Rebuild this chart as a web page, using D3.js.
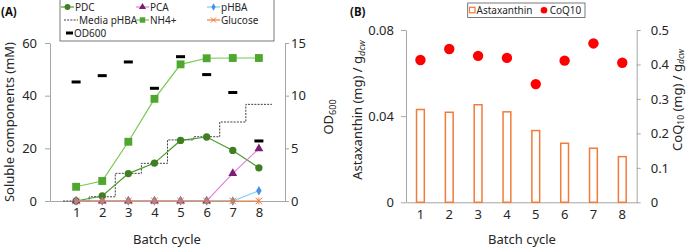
<!DOCTYPE html>
<html>
<head>
<meta charset="utf-8">
<script src="https://cdn.jsdelivr.net/npm/d3@7"></script>
<style>
  body { margin: 0; background: #fff; }
  svg { font-family: "Noto Sans", sans-serif; }
</style>
</head>
<body>
<svg id="chart" width="687" height="247"></svg>
<script>
// panel A data (mM, OD)
const cycles = [1, 2, 3, 4, 5, 6, 7, 8];
const pdc = [0, 1.9, 10.4, 14.4, 23.0, 24.3, 19.2, 12.6];
const pca = [0, 0, 0, 0, 0, 0, 10.5, 19.9];
const phba = [0, 0, 0, 0, 0, 0, 0, 3.9];
const glucose = [0, 0, 0, 0, 0, 0, 0, 0];
const nh4 = [5.4, 7.6, 22.5, 38.8, 51.9, 54.2, 54.3, 54.3];
const mediaPhba = [0, 1.6, 10.5, 14.3, 23.2, 24.4, 30.0, 36.7];
const od600 = [11.3, 11.9, 13.2, 10.7, 13.7, 12.0, 10.3, 5.7];
const leftTicksA = [0, 20, 40, 60];
const rightTicksA = [0, 5, 10, 15];

// panel B data
const astaxanthin = [0.0431, 0.0418, 0.0453, 0.0420, 0.0333, 0.0274, 0.0251, 0.0212];
const coq10 = [0.413, 0.445, 0.425, 0.419, 0.343, 0.411, 0.461, 0.405];
const leftTicksB = [0, 0.04, 0.08];
const rightTicksB = [0, 0.1, 0.2, 0.3, 0.4, 0.5];

const svg = d3.select("#chart");
const axisGrey = "#a6a6a6";
const textCol = "#262626";

function styleAxis(g) {
    g.select(".domain").attr("stroke", axisGrey);
    g.selectAll(".tick line").attr("stroke", axisGrey);
    g.selectAll(".tick text").attr("fill", textCol).style("font-size", "13px").style("font-family", "\"Noto Sans\", sans-serif");
}

// ---------- panel A ----------
const xA = d3.scaleLinear().domain([0, 9]).range([50, 285]);
const yA = d3.scaleLinear().domain([0, 60]).range([201, 43]);
const yA2 = d3.scaleLinear().domain([0, 15]).range([201, 43]);

svg.append("g").attr("transform", "translate(50,0)")
    .call(d3.axisLeft(yA).tickValues(leftTicksA).tickSize(5).tickSizeOuter(0).tickPadding(8))
    .call(styleAxis);
svg.append("g").attr("transform", "translate(285,0)")
    .call(d3.axisRight(yA2).tickValues(rightTicksA).tickSize(4).tickSizeOuter(0).tickPadding(2))
    .call(styleAxis);
svg.append("g").attr("transform", "translate(0,201)")
    .call(d3.axisBottom(xA).tickValues(cycles).tickSize(0).tickSizeOuter(0).tickPadding(7))
    .call(styleAxis);

// media pHBA step line, each level spans one cycle
const stepPts = [];
mediaPhba.forEach((v, i) => { stepPts.push([cycles[i] - 0.5, v], [cycles[i] + 0.5, v]); });
svg.append("path")
    .attr("d", d3.line().x(d => xA(d[0])).y(d => yA(d[1]))(stepPts))
    .attr("fill", "none").attr("stroke", "#404040").attr("stroke-width", 1)
    .attr("stroke-dasharray", "2,1.2");

const lineA = d3.line().x((d, i) => xA(cycles[i])).y(d => yA(d));

function series(vals, lineCol, markCol, symbol, size) {
    svg.append("path").attr("d", lineA(vals))
        .attr("fill", "none").attr("stroke", lineCol).attr("stroke-width", 1.2);
    svg.append("g").selectAll("path").data(vals).join("path")
        .attr("transform", (d, i) => `translate(${xA(cycles[i])},${yA(d)})`)
        .attr("d", d3.symbol().type(symbol).size(size))
        .attr("fill", markCol);
}

series(nh4, "#78c850", "#4ea72e", d3.symbolSquare, 62);
series(pdc, "#4b9a2c", "#3f7f22", d3.symbolCircle, 42);
series(pca, "#e381dc", "#7b1e74", d3.symbolTriangle, 34);
series(phba, "#6fd0f5", "#4a90e2", d3.symbolDiamond, 26);

// glucose asterisks
svg.append("path").attr("d", lineA(glucose))
    .attr("fill", "none").attr("stroke", "#f07b3a").attr("stroke-width", 1.2);
svg.append("g").selectAll("path").data(glucose).join("path")
    .attr("transform", (d, i) => `translate(${xA(cycles[i])},${yA(d)})`)
    .attr("d", d3.symbol().type(d3.symbolTimes).size(30))
    .attr("fill", "none").attr("stroke", "#f07b3a").attr("stroke-width", 1);
svg.append("g").selectAll("line").data(glucose).join("line")
    .attr("x1", (d, i) => xA(cycles[i])).attr("x2", (d, i) => xA(cycles[i]))
    .attr("y1", d => yA(d) - 3.5).attr("y2", d => yA(d) + 3.5)
    .attr("stroke", "#f07b3a").attr("stroke-width", 1);

// OD600 dashes
svg.append("g").selectAll("rect").data(od600).join("rect")
    .attr("x", (d, i) => xA(cycles[i]) - 4.5).attr("y", d => yA2(d) - 1.5)
    .attr("width", 9).attr("height", 3).attr("fill", "#000");

// axis titles A
svg.append("text").attr("transform", "translate(14,122) rotate(-90)")
    .attr("text-anchor", "middle").attr("fill", textCol).style("font-size", "13px")
    .text("Soluble components (mM)");
svg.append("text").attr("x", 167).attr("y", 244).attr("text-anchor", "middle")
    .attr("fill", textCol).style("font-size", "13px").text("Batch cycle");
const odLab = svg.append("text").attr("transform", "translate(333,117) rotate(-90)")
    .attr("text-anchor", "middle").attr("fill", textCol).style("font-size", "13px");
odLab.append("tspan").text("OD");
odLab.append("tspan").attr("dy", 2.5).style("font-size", "9px").text("600");
svg.append("text").attr("x", 1).attr("y", 16).attr("font-weight", "bold")
    .attr("fill", "#111").style("font-size", "11.5px").text("(A)");

// legend A
const legA = svg.append("g");
legA.append("rect").attr("x", 60).attr("y", -1).attr("width", 214).attr("height", 42)
    .attr("fill", "#fff").attr("stroke", "#595959").attr("stroke-width", 0.8);
const legItems = [
    {name: "PDC", col: 0, row: 0, line: "#4b9a2c", mark: "#3f7f22", sym: d3.symbolCircle, s: 26},
    {name: "PCA", col: 1, row: 0, line: "#e381dc", mark: "#7b1e74", sym: d3.symbolTriangle, s: 22},
    {name: "pHBA", col: 2, row: 0, line: "#6fd0f5", mark: "#4a90e2", sym: d3.symbolDiamond, s: 16},
    {name: "Media pHBA", col: 0, row: 1, dash: true},
    {name: "NH4+", col: 1, row: 1, line: "#78c850", mark: "#4ea72e", sym: d3.symbolSquare, s: 30},
    {name: "Glucose", col: 2, row: 1, line: "#f07b3a", mark: "#f07b3a", sym: d3.symbolTimes, s: 20, hollow: true},
    {name: "OD600", col: 0, row: 2, od: true}
];
const colX = [61, 136, 207];
const rowY = [7, 20, 33];
legItems.forEach(it => {
    const x0 = colX[it.col], y0 = rowY[it.row];
    const g = legA.append("g");
    if (it.od) {
        g.append("rect").attr("x", x0 + 5).attr("y", y0 - 1.5).attr("width", 7).attr("height", 3).attr("fill", "#000");
    } else if (it.dash) {
        g.append("line").attr("x1", x0 + 3).attr("x2", x0 + 17).attr("y1", y0).attr("y2", y0)
            .attr("stroke", "#404040").attr("stroke-dasharray", "2,1.2");
    } else {
        g.append("line").attr("x1", x0).attr("x2", x0 + 13).attr("y1", y0).attr("y2", y0)
            .attr("stroke", it.line).attr("stroke-width", 1.2);
        const m = g.append("path").attr("transform", `translate(${x0 + 6.5},${y0})`)
            .attr("d", d3.symbol().type(it.sym).size(it.s));
        if (it.hollow) m.attr("fill", "none").attr("stroke", it.mark);
        else m.attr("fill", it.mark);
    }
    g.append("text").attr("x", it.od ? x0 + 13 : (it.dash ? x0 + 18 : x0 + 14)).attr("y", y0 + 3.5)
        .attr("fill", textCol).style("font-size", "10px").text(it.name);
});

// ---------- panel B ----------
const xB = d3.scaleBand().domain(cycles).range([406, 636.7]);
const yB = d3.scaleLinear().domain([0, 0.08]).range([202.3, 30]);
const yB2 = d3.scaleLinear().domain([0, 0.5]).range([202.3, 30]);

svg.append("g").attr("transform", "translate(406,0)")
    .call(d3.axisLeft(yB).tickValues(leftTicksB).tickFormat(d => d === 0 ? "0" : d3.format(".2f")(d))
        .tickSize(5).tickSizeOuter(0).tickPadding(7))
    .call(styleAxis);
svg.append("g").attr("transform", "translate(636.7,0)")
    .call(d3.axisRight(yB2).tickValues(rightTicksB).tickFormat(d => d === 0 ? "0" : d3.format(".1f")(d))
        .tickSize(4).tickSizeOuter(0).tickPadding(10))
    .call(styleAxis);
svg.append("g").attr("transform", "translate(0,202.3)")
    .call(d3.axisBottom(xB).tickSize(0).tickSizeOuter(0).tickPadding(7))
    .call(styleAxis);

const barW = xB.bandwidth() * 0.27;
svg.append("g").selectAll("rect").data(astaxanthin).join("rect")
    .attr("x", (d, i) => xB(cycles[i]) + xB.bandwidth() / 2 - barW / 2)
    .attr("y", d => yB(d))
    .attr("width", barW).attr("height", d => yB(0) - yB(d))
    .attr("fill", "#fff").attr("stroke", "#f07b3a").attr("stroke-width", 1.5);

svg.append("g").selectAll("circle").data(coq10).join("circle")
    .attr("cx", (d, i) => xB(cycles[i]) + xB.bandwidth() / 2)
    .attr("cy", d => yB2(d)).attr("r", 5.2).attr("fill", "#ff0000");

// axis titles B
svg.append("text").attr("x", 522).attr("y", 244).attr("text-anchor", "middle")
    .attr("fill", textCol).style("font-size", "13px").text("Batch cycle");
const astLab = svg.append("text").attr("transform", "translate(362,110) rotate(-90)")
    .attr("text-anchor", "middle").attr("fill", textCol).style("font-size", "13px");
astLab.append("tspan").text("Astaxanthin (mg) / g");
astLab.append("tspan").attr("dy", 2.5).style("font-size", "9px").style("font-style", "italic").text("dcw");
const coqLab = svg.append("text").attr("transform", "translate(682,100) rotate(-90)")
    .attr("text-anchor", "middle").attr("fill", textCol).style("font-size", "13px");
coqLab.append("tspan").text("CoQ");
coqLab.append("tspan").attr("dy", 2).style("font-size", "8.5px").text("10");
coqLab.append("tspan").attr("dy", -2).text(" (mg) / g");
coqLab.append("tspan").attr("dy", 2).style("font-size", "8.5px").style("font-style", "italic").text("dcw");
svg.append("text").attr("x", 350).attr("y", 16).attr("font-weight", "bold")
    .attr("fill", "#111").style("font-size", "11.5px").text("(B)");

// legend B
const legB = svg.append("g");
legB.append("rect").attr("x", 467.7).attr("y", 3).attr("width", 117.3).attr("height", 14.5)
    .attr("fill", "#fff").attr("stroke", "#595959").attr("stroke-width", 0.8);
legB.append("rect").attr("x", 469.5).attr("y", 7.3).attr("width", 5.5).attr("height", 5.5)
    .attr("fill", "#fff").attr("stroke", "#f07b3a").attr("stroke-width", 1.2);
legB.append("text").attr("x", 476.5).attr("y", 13.8).attr("fill", textCol).style("font-size", "10px").text("Astaxanthin");
legB.append("circle").attr("cx", 544).attr("cy", 10.2).attr("r", 3.3).attr("fill", "#ff0000");
legB.append("text").attr("x", 549.7).attr("y", 13.8).attr("fill", textCol).style("font-size", "10px").text("CoQ10");
</script>
</body>
</html>
